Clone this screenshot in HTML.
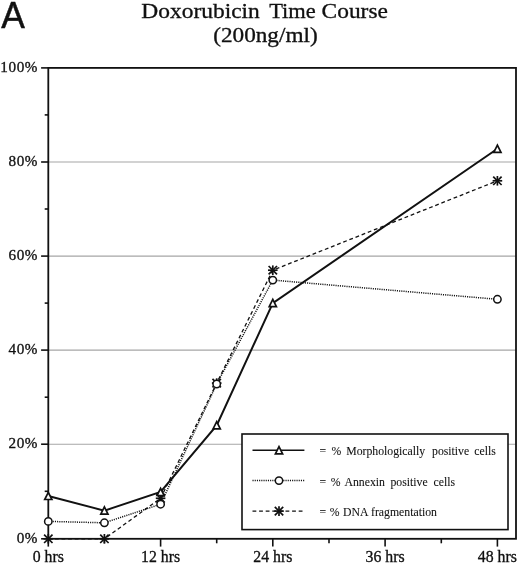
<!DOCTYPE html>
<html><head><meta charset="utf-8"><title>Doxorubicin Time Course</title>
<style>
html,body{margin:0;padding:0;background:#fff;}
body{width:520px;height:565px;overflow:hidden;}
svg{display:block;}
text{font-family:"Liberation Serif",serif;fill:#111;stroke:#111;stroke-width:0.32px;}
.sans{font-family:"Liberation Sans",sans-serif;}
</style></head><body>
<svg width="520" height="565" viewBox="0 0 520 565">
<rect width="520" height="565" fill="#fff"/>
<text class="sans" x="1.2" y="27.6" font-size="36.5" textLength="23.6" lengthAdjust="spacingAndGlyphs" style="stroke-width:0.5px">A</text>
<text y="17.8" font-size="21.5"><tspan x="141.3" textLength="118.5" lengthAdjust="spacingAndGlyphs">Doxorubicin</tspan> <tspan x="269.2" textLength="46.6" lengthAdjust="spacingAndGlyphs">Time</tspan> <tspan x="321.6" textLength="66.3" lengthAdjust="spacingAndGlyphs">Course</tspan></text>
<text x="213.2" y="42.4" font-size="21.5" textLength="104.5" lengthAdjust="spacingAndGlyphs">(200ng/ml)</text>
<line x1="48.3" y1="444.2" x2="516.0" y2="444.2" stroke="#a6a6a6" stroke-width="1.1"/>
<line x1="48.3" y1="350.1" x2="516.0" y2="350.1" stroke="#a6a6a6" stroke-width="1.1"/>
<line x1="48.3" y1="256.1" x2="516.0" y2="256.1" stroke="#a6a6a6" stroke-width="1.1"/>
<line x1="48.3" y1="162.0" x2="516.0" y2="162.0" stroke="#a6a6a6" stroke-width="1.1"/>
<rect x="48.3" y="67.9" width="467.7" height="470.9" fill="none" stroke="#111" stroke-width="1.8"/>
<line x1="41.1" y1="538.8" x2="48.3" y2="538.8" stroke="#111" stroke-width="1.6"/>
<line x1="44.7" y1="491.3" x2="48.3" y2="491.3" stroke="#111" stroke-width="1.6"/>
<line x1="41.1" y1="444.2" x2="48.3" y2="444.2" stroke="#111" stroke-width="1.6"/>
<line x1="44.7" y1="397.2" x2="48.3" y2="397.2" stroke="#111" stroke-width="1.6"/>
<line x1="41.1" y1="350.1" x2="48.3" y2="350.1" stroke="#111" stroke-width="1.6"/>
<line x1="44.7" y1="303.1" x2="48.3" y2="303.1" stroke="#111" stroke-width="1.6"/>
<line x1="41.1" y1="256.1" x2="48.3" y2="256.1" stroke="#111" stroke-width="1.6"/>
<line x1="44.7" y1="209.0" x2="48.3" y2="209.0" stroke="#111" stroke-width="1.6"/>
<line x1="41.1" y1="162.0" x2="48.3" y2="162.0" stroke="#111" stroke-width="1.6"/>
<line x1="44.7" y1="114.9" x2="48.3" y2="114.9" stroke="#111" stroke-width="1.6"/>
<line x1="41.1" y1="67.9" x2="48.3" y2="67.9" stroke="#111" stroke-width="1.6"/>
<text x="38" y="542.9" font-size="15.2" letter-spacing="0.55" text-anchor="end">0%</text>
<text x="38" y="448.3" font-size="15.2" letter-spacing="0.55" text-anchor="end">20%</text>
<text x="38" y="354.2" font-size="15.2" letter-spacing="0.55" text-anchor="end">40%</text>
<text x="38" y="260.2" font-size="15.2" letter-spacing="0.55" text-anchor="end">60%</text>
<text x="38" y="166.1" font-size="15.2" letter-spacing="0.55" text-anchor="end">80%</text>
<text x="38" y="72.0" font-size="15.2" letter-spacing="0.55" text-anchor="end">100%</text>
<line x1="48.3" y1="538.8" x2="48.3" y2="546.6" stroke="#111" stroke-width="1.6"/>
<line x1="104.4" y1="538.8" x2="104.4" y2="543.3" stroke="#111" stroke-width="1.6"/>
<line x1="160.6" y1="538.8" x2="160.6" y2="546.6" stroke="#111" stroke-width="1.6"/>
<line x1="216.7" y1="538.8" x2="216.7" y2="543.3" stroke="#111" stroke-width="1.6"/>
<line x1="272.8" y1="538.8" x2="272.8" y2="546.6" stroke="#111" stroke-width="1.6"/>
<line x1="329.0" y1="538.8" x2="329.0" y2="543.3" stroke="#111" stroke-width="1.6"/>
<line x1="385.1" y1="538.8" x2="385.1" y2="546.6" stroke="#111" stroke-width="1.6"/>
<line x1="441.3" y1="538.8" x2="441.3" y2="543.3" stroke="#111" stroke-width="1.6"/>
<line x1="497.4" y1="538.8" x2="497.4" y2="546.6" stroke="#111" stroke-width="1.6"/>
<text x="48.3" y="561.7" font-size="15.8" text-anchor="middle">0 hrs</text>
<text x="160.6" y="561.7" font-size="15.8" text-anchor="middle">12 hrs</text>
<text x="272.8" y="561.7" font-size="15.8" text-anchor="middle">24 hrs</text>
<text x="385.1" y="561.7" font-size="15.8" text-anchor="middle">36 hrs</text>
<text x="497.4" y="561.7" font-size="15.8" text-anchor="middle">48 hrs</text>
<polyline points="48.3,496.0 104.4,510.6 160.6,492.0 216.7,425.4 272.8,303.1 497.4,148.8" fill="none" stroke="#111" stroke-width="2"/>
<polyline points="48.3,521.4 104.4,522.8 160.6,504.2 216.7,384.0 272.8,280.1 497.4,299.3" fill="none" stroke="#111" stroke-width="1.5" stroke-dasharray="1.1,1.1"/>
<polyline points="48.3,538.8 104.4,538.8 160.6,498.3 216.7,383.1 272.8,270.2 497.4,180.8" fill="none" stroke="#111" stroke-width="1.3" stroke-dasharray="3.8,2.8"/>
<g stroke="#111" stroke-width="1.7"><line x1="48.3" y1="534.0" x2="48.3" y2="543.6"/><line x1="43.5" y1="538.8" x2="53.1" y2="538.8"/><line x1="44.1" y1="534.6" x2="52.5" y2="543.0"/><line x1="44.1" y1="543.0" x2="52.5" y2="534.6"/></g>
<g stroke="#111" stroke-width="1.7"><line x1="104.4" y1="534.0" x2="104.4" y2="543.6"/><line x1="99.6" y1="538.8" x2="109.2" y2="538.8"/><line x1="100.2" y1="534.6" x2="108.6" y2="543.0"/><line x1="100.2" y1="543.0" x2="108.6" y2="534.6"/></g>
<g stroke="#111" stroke-width="1.7"><line x1="160.6" y1="493.5" x2="160.6" y2="503.1"/><line x1="155.8" y1="498.3" x2="165.4" y2="498.3"/><line x1="156.4" y1="494.1" x2="164.8" y2="502.5"/><line x1="156.4" y1="502.5" x2="164.8" y2="494.1"/></g>
<g stroke="#111" stroke-width="1.7"><line x1="216.7" y1="378.3" x2="216.7" y2="387.9"/><line x1="211.9" y1="383.1" x2="221.5" y2="383.1"/><line x1="212.5" y1="378.9" x2="220.9" y2="387.3"/><line x1="212.5" y1="387.3" x2="220.9" y2="378.9"/></g>
<g stroke="#111" stroke-width="1.7"><line x1="272.8" y1="265.4" x2="272.8" y2="275.0"/><line x1="268.0" y1="270.2" x2="277.6" y2="270.2"/><line x1="268.6" y1="266.0" x2="277.0" y2="274.4"/><line x1="268.6" y1="274.4" x2="277.0" y2="266.0"/></g>
<g stroke="#111" stroke-width="1.7"><line x1="497.4" y1="176.0" x2="497.4" y2="185.6"/><line x1="492.6" y1="180.8" x2="502.2" y2="180.8"/><line x1="493.2" y1="176.6" x2="501.6" y2="185.0"/><line x1="493.2" y1="185.0" x2="501.6" y2="176.6"/></g>
<circle cx="48.3" cy="521.4" r="3.7" fill="#fff" stroke="#111" stroke-width="1.5"/>
<circle cx="104.4" cy="522.8" r="3.7" fill="#fff" stroke="#111" stroke-width="1.5"/>
<circle cx="160.6" cy="504.2" r="3.7" fill="#fff" stroke="#111" stroke-width="1.5"/>
<circle cx="216.7" cy="384.0" r="3.7" fill="#fff" stroke="#111" stroke-width="1.5"/>
<circle cx="272.8" cy="280.1" r="3.7" fill="#fff" stroke="#111" stroke-width="1.5"/>
<circle cx="497.4" cy="299.3" r="3.7" fill="#fff" stroke="#111" stroke-width="1.5"/>
<polygon points="48.3,492.3 44.7,499.5 51.9,499.5" fill="#fff" stroke="#111" stroke-width="1.7"/>
<polygon points="104.4,506.9 100.8,514.1 108.0,514.1" fill="#fff" stroke="#111" stroke-width="1.7"/>
<polygon points="160.6,488.3 157.0,495.5 164.2,495.5" fill="#fff" stroke="#111" stroke-width="1.7"/>
<polygon points="216.7,421.7 213.1,428.9 220.3,428.9" fill="#fff" stroke="#111" stroke-width="1.7"/>
<polygon points="272.8,299.4 269.2,306.6 276.4,306.6" fill="#fff" stroke="#111" stroke-width="1.7"/>
<polygon points="497.4,145.1 493.8,152.3 501.0,152.3" fill="#fff" stroke="#111" stroke-width="1.7"/>
<rect x="242" y="434" width="266" height="95.6" fill="#fff" stroke="#111" stroke-width="1.6"/>
<line x1="252.5" y1="450.3" x2="304.4" y2="450.3" stroke="#111" stroke-width="1.5"/>
<line x1="252.5" y1="480.6" x2="304.4" y2="480.6" stroke="#111" stroke-width="1.5" stroke-dasharray="1.1,1.1"/>
<line x1="252.5" y1="511.1" x2="304.4" y2="511.1" stroke="#111" stroke-width="1.3" stroke-dasharray="3.8,2.8"/>
<polygon points="279.0,446.6 275.4,453.8 282.6,453.8" fill="#fff" stroke="#111" stroke-width="1.7"/>
<circle cx="279.0" cy="480.6" r="3.7" fill="#fff" stroke="#111" stroke-width="1.5"/>
<g stroke="#111" stroke-width="1.7"><line x1="279.0" y1="506.3" x2="279.0" y2="515.9"/><line x1="274.2" y1="511.1" x2="283.8" y2="511.1"/><line x1="274.8" y1="506.9" x2="283.2" y2="515.3"/><line x1="274.8" y1="515.3" x2="283.2" y2="506.9"/></g>
<text y="455.3" font-size="11.75" style="stroke-width:0.08px"><tspan x="319.5">=</tspan> <tspan x="331.5">%</tspan> <tspan x="346.2">Morphologically</tspan> <tspan x="432.0">positive</tspan> <tspan x="474.3">cells</tspan></text>
<text y="485.8" font-size="11.75" style="stroke-width:0.08px"><tspan x="319.5">=</tspan> <tspan x="330.7">%</tspan> <tspan x="344.5">Annexin</tspan> <tspan x="390.4">positive</tspan> <tspan x="433.6">cells</tspan></text>
<text y="516.3" font-size="11.75" style="stroke-width:0.08px"><tspan x="319.5">=</tspan> <tspan x="329.8">%</tspan> <tspan x="343.1">DNA</tspan> <tspan x="371.0">fragmentation</tspan></text>
</svg>
</body></html>
